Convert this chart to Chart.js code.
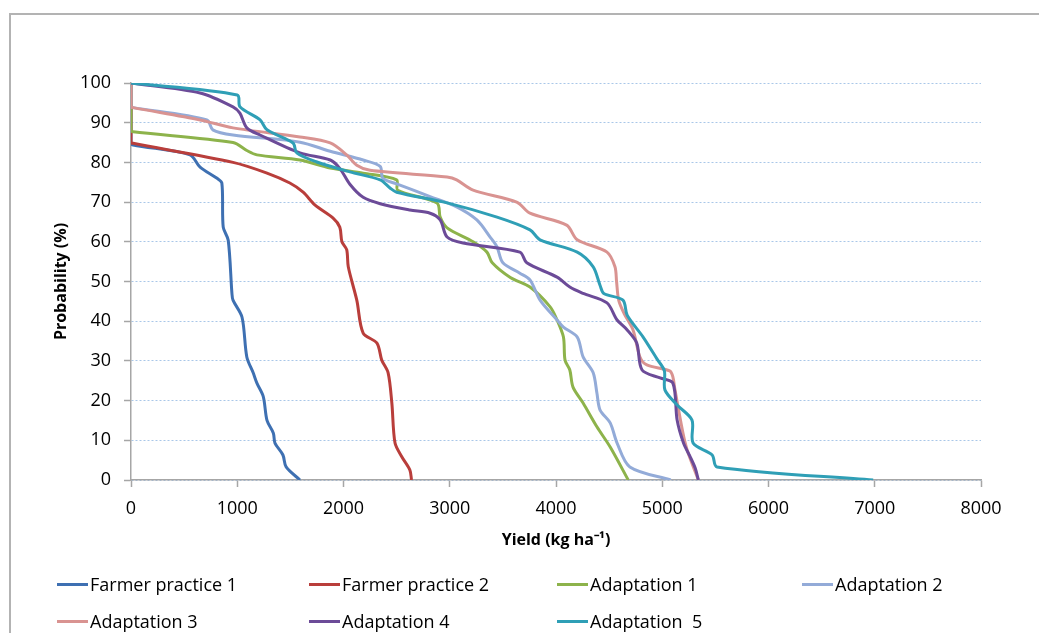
<!DOCTYPE html>
<html>
<head>
<meta charset="utf-8">
<script src="https://cdn.jsdelivr.net/npm/chart.js@4"></script>
<style>
  html, body { margin: 0; padding: 0; background: #fff; overflow: hidden; }
  #wrap { position: relative; width: 1039px; height: 633px; }
  #frame { position: absolute; left: 9px; top: 13px; width: 1100px; height: 700px; border: 2px solid #b3b3b3; }
  #myChart { position: absolute; left: 0; top: 0; }
  .item { position: absolute; height: 24px; font: 18px "Open Sans", sans-serif; color: #000; white-space: pre; }
  .item span.mark { position: absolute; left: 0; top: 11px; width: 31px; height: 3px; }
  .item span.txt { position: absolute; left: 33px; top: 0; line-height: 24px; }
</style>
</head>
<body>
<div id="wrap">
  <div id="frame"></div>
  <canvas id="myChart" width="1039" height="633"></canvas>
  <div id="legend"></div>
</div>
<script>
// yield (kg/ha) and probability (%) for every series
let labels = ['Farmer practice 1', 'Farmer practice 2', 'Adaptation 1', 'Adaptation 2',
  'Adaptation 3', 'Adaptation 4', 'Adaptation  5']
let colors = ['#3e70b2', '#b93e3b', '#8db34b', '#93abd8', '#d99391', '#6c4b98', '#2f9fb6']

let fp1Yield = [0, 0, 20, 555, 650, 810, 855, 868, 915, 950, 960, 1045, 1090, 1150, 1185, 1245, 1280, 1340, 1355, 1430, 1460, 1590]
let fp1Prob = [100, 85, 84.4, 81.9, 78.8, 76, 74.8, 63.7, 60.4, 47, 45.3, 41, 31, 27, 24.4, 21, 15, 11.8, 9.3, 6.3, 3.3, 0]

let fp2Yield = [0, 0, 20, 960, 1280, 1495, 1620, 1730, 1900, 1965, 1985, 2030, 2045, 2125, 2185, 2315, 2360, 2420, 2455, 2485, 2550, 2625, 2640]
let fp2Prob = [100, 85, 84.8, 80, 77.3, 74.8, 72.5, 69.3, 66, 63.7, 60, 58, 53.7, 45.3, 37, 34.5, 30.2, 27, 19.4, 9.3, 5.8, 2.5, 0]

let ad1Yield = [0, 0, 20, 960, 1090, 1185, 1590, 1875, 2185, 2500, 2510, 2880, 2910, 2975, 3220, 3350, 3400, 3570, 3755, 3945, 4010, 4070, 4085, 4130, 4160, 4255, 4385, 4510, 4680]
let ad1Prob = [100, 88, 87.7, 85, 83, 81.9, 80.6, 78.6, 77.3, 75.6, 73, 69.8, 66.2, 63.5, 60, 57.4, 54.7, 51, 48.6, 43.6, 40.3, 36, 30.2, 27.7, 23.4, 19.4, 13.4, 8.3, 0]

let ad2Yield = [0, 0, 20, 715, 770, 960, 1590, 1875, 2185, 2345, 2370, 2500, 2815, 3065, 3255, 3380, 3445, 3500, 3660, 3755, 3850, 4010, 4070, 4200, 4255, 4350, 4385, 4415, 4510, 4575, 4695, 5080]
let ad2Prob = [100, 94, 93.8, 90.7, 88.2, 86.9, 85.1, 82.8, 80.6, 79, 76, 74.6, 71.4, 68.8, 65.5, 61.2, 58.7, 54.7, 52.1, 50.4, 45.3, 40.3, 38.5, 36, 31, 27, 21.9, 17.6, 14.4, 9.3, 3.3, 0]

let ad3Yield = [0, 0, 20, 650, 960, 1590, 1875, 2030, 2125, 2250, 2975, 3065, 3220, 3630, 3755, 4100, 4200, 4480, 4555, 4570, 4590, 4640, 4725, 4790, 4855, 5070, 5100, 5120, 5195, 5235, 5340]
let ad3Prob = [100, 94, 93.8, 90.7, 88.7, 86.4, 84.9, 81.9, 79.3, 78, 76.3, 75.6, 73, 70, 67.2, 64.2, 60.5, 57.4, 53.7, 50, 45.3, 42, 37.8, 31, 29, 27.5, 26, 22.7, 11.8, 7.5, 0]

let ad4Yield = [0, 650, 960, 1025, 1090, 1215, 1590, 1875, 1965, 2060, 2185, 2345, 2625, 2815, 2910, 2975, 3125, 3660, 3725, 4010, 4130, 4255, 4480, 4575, 4670, 4760, 4810, 4980, 5100, 5140, 5200, 5260, 5310, 5340]
let ad4Prob = [100, 97.5, 94, 92.4, 88.7, 86.9, 82.4, 80.6, 78.5, 74.5, 71.2, 69.6, 68, 67.2, 65.5, 61.2, 59.7, 57.4, 54.7, 51.1, 48.6, 47, 44.6, 40.3, 37.8, 34.5, 27.7, 25.7, 24.4, 15.1, 9.3, 6, 3, 0]

let ad5Yield = [0, 1000, 1025, 1215, 1280, 1525, 1560, 1750, 2060, 2345, 2440, 2500, 2975, 3445, 3755, 3850, 4200, 4350, 4415, 4450, 4630, 4670, 4820, 4950, 5020, 5025, 5140, 5280, 5290, 5470, 5515, 6985]
let ad5Prob = [100, 97, 94, 90.7, 88.2, 84.9, 82.4, 80.1, 77.6, 75.6, 73.5, 72.5, 69.8, 66.2, 63, 60.5, 57.4, 53.7, 49, 47, 45.3, 41.5, 36, 30.5, 27.5, 22.7, 18.9, 15.1, 9.3, 6.3, 3.3, 0]

let xTicks = [0, 1000, 2000, 3000, 4000, 5000, 6000, 7000, 8000]
let yTicks = [0, 10, 20, 30, 40, 50, 60, 70, 80, 90, 100]

let yields = [fp1Yield, fp2Yield, ad1Yield, ad2Yield, ad3Yield, ad4Yield, ad5Yield]
let probs = [fp1Prob, fp2Prob, ad1Prob, ad2Prob, ad3Prob, ad4Prob, ad5Prob]

// turn each pair of arrays into points
function toPoints(xs, ys) {
  return xs.map((x, i) => ({ x: x, y: ys[i] }))
}

let datasets = labels.map((name, i) => ({
  label: name,
  data: toPoints(yields[i], probs[i]),
  showLine: true,
  borderColor: colors[i],
  backgroundColor: colors[i],
  borderWidth: 3,
  pointRadius: 0,
  tension: 0.3,
  order: labels.length - i // later series on top, as in the picture
}))

const gray = '#a6a6a6'
const tickFont = { family: 'Open Sans', size: 18 }

var ctx = document.getElementById('myChart').getContext('2d');
var myChart = new Chart(ctx, {
  type: 'scatter',
  data: { datasets: datasets },
  options: {
    responsive: false,
    animation: false,
    layout: { padding: { left: 40, top: 83, right: 58, bottom: 73 } },
    plugins: { legend: { display: false }, tooltip: { enabled: false } },
    scales: {
      x: {
        min: 0, max: 8000,
        afterBuildTicks: s => { s.ticks = xTicks.map(v => ({ value: v })) },
        afterFit: s => { s.height = 80 },
        ticks: { font: tickFont, color: '#000', padding: 11, maxRotation: 0, callback: v => String(v) },
        grid: { drawOnChartArea: false, tickLength: 7, tickColor: gray, tickWidth: 1.5 },
        border: { color: gray, width: 1.5 },
        title: {
          display: true, text: 'Yield (kg ha\u207B\u00B9)', color: '#000',
          font: { family: 'Open Sans', size: 16, weight: 'bold' },
          padding: { top: 0, bottom: 10 }
        }
      },
      y: {
        min: 0, max: 100,
        afterBuildTicks: s => { s.ticks = yTicks.map(v => ({ value: v })) },
        afterFit: s => { s.width = 91 },
        ticks: { font: tickFont, color: '#000', padding: 13, callback: v => String(v) },
        grid: { color: '#a9c7e8', lineWidth: 1, tickLength: 7, tickColor: gray, tickWidth: 1.5 },
        border: { color: gray, width: 1.5, dash: [2, 2] },
        title: {
          display: true, text: 'Probability (%)', color: '#000',
          font: { family: 'Open Sans', size: 16, weight: 'bold' },
          padding: { top: 12, bottom: 0 }
        }
      }
    }
  }
});

// legend laid out in two rows like the picture
let legendX = [57, 309, 557, 802]
let legendY = [572, 609]
let legend = document.getElementById('legend')
labels.forEach((name, i) => {
  let d = document.createElement('div')
  d.className = 'item'
  d.style.left = legendX[i % 4] + 'px'
  d.style.top = legendY[Math.floor(i / 4)] + 'px'
  d.innerHTML = '<span class="mark" style="background:' + colors[i] + '"></span><span class="txt">' + name + '</span>'
  legend.appendChild(d)
})
</script>
</body>
</html>
